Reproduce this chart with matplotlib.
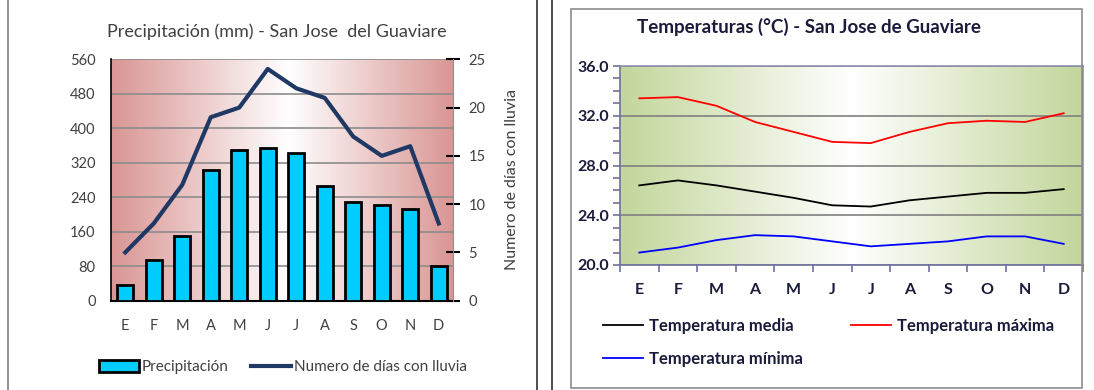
import matplotlib
matplotlib.use("Agg")
import matplotlib.pyplot as plt
import numpy as np
from matplotlib.colors import to_rgb
from matplotlib.patches import Rectangle
from matplotlib.lines import Line2D

# ---------------- data ----------------
months = ["E", "F", "M", "A", "M", "J", "J", "A", "S", "O", "N", "D"]
precip_mm = [37, 94, 150, 304, 349, 355, 342, 267, 229, 223, 213, 80]
rain_days = [5, 8, 12, 19, 20, 24, 22, 21, 17, 15, 16, 8]
temp_media = [26.4, 26.8, 26.4, 25.9, 25.4, 24.8, 24.7, 25.2, 25.5, 25.8, 25.8, 26.1]
temp_max = [33.4, 33.5, 32.8, 31.5, 30.7, 29.9, 29.8, 30.7, 31.4, 31.6, 31.5, 32.2]
temp_min = [21.0, 21.4, 22.0, 22.4, 22.3, 21.9, 21.5, 21.7, 21.9, 22.3, 22.3, 21.7]
precip_ticks = [0, 80, 160, 240, 320, 400, 480, 560]
days_ticks = [0, 5, 10, 15, 20, 25]
temp_ticks = [20.0, 24.0, 28.0, 32.0, 36.0]

W, H = 1094, 390
fig = plt.figure(figsize=(W / 100, H / 100), dpi=100)
FONT = "Lato"


def fx(px):
    return px / W


def fy(py):
    return 1 - py / H


def gradient(ax, edge, center=(1, 1, 1), mid=0.5):
    n = 256
    t = np.linspace(0, 1, n)
    d = np.where(t < mid, (mid - t) / mid, (t - mid) / (1 - mid))
    e = np.array(to_rgb(edge))
    c = np.array(center)
    img = c[None, :] * (1 - d[:, None]) + e[None, :] * d[:, None]
    ax.imshow(img[None, :, :], extent=[0, 1, 0, 1], transform=ax.transAxes,
              aspect="auto", zorder=0, interpolation="bilinear")


# decorative panel lines
fig.add_artist(Line2D([fx(8), fx(8)], [0, 1], color="#808080", lw=1.2))
fig.add_artist(Line2D([fx(537), fx(537)], [0, fy(0)], color="#303030", lw=1.2))
fig.add_artist(Line2D([fx(552), fx(552)], [0, 1], color="#303030", lw=1.2))

# ---------------- left chart: precipitation ----------------
axL = fig.add_axes([fx(111), fy(300.7), fx(453) - fx(111), fy(59.3) - fy(300.7)])
gradient(axL, "#D99694", mid=0.52)
x = np.arange(len(months))
axL.bar(x, precip_mm, width=0.56, color="#00CCFF", edgecolor="black",
        linewidth=2, zorder=3)
axL.set_xlim(-0.5, len(months) - 0.5)
axL.set_ylim(0, 560)
axL.set_yticks(precip_ticks)
axL.yaxis.grid(True, color="#8C8C8C", lw=1.2, zorder=1)
axL.set_axisbelow(True)
axL.set_xticks(x)
axL.set_xticklabels(months)
axL.tick_params(axis="both", length=0, labelsize=10.5, labelcolor="#404040")
axL.tick_params(axis="y", pad=11)
axL.tick_params(axis="x", pad=13)
for lab in axL.get_xticklabels() + axL.get_yticklabels():
    lab.set_fontfamily(FONT)
axL.spines["top"].set_visible(False)
axL.spines["right"].set_visible(False)
axL.spines["left"].set_color("black")
axL.spines["bottom"].set_color("black")
axL.spines["left"].set_linewidth(1.2)
axL.spines["bottom"].set_linewidth(1.5)

axR = axL.twinx()
axR.plot(x, rain_days, color="#1F3864", lw=3, zorder=5, solid_joinstyle="round")
axR.set_ylim(0, 25)
axR.set_yticks(days_ticks)
axR.tick_params(axis="y", direction="inout", length=10, width=1.5, color="black",
                labelsize=10.5, labelcolor="#404040", pad=6)
for lab in axR.get_yticklabels():
    lab.set_fontfamily(FONT)
for s in ["top", "left", "bottom"]:
    axR.spines[s].set_visible(False)
axR.spines["right"].set_color("#909090")
axR.set_ylabel("Numero de días con lluvia", fontsize=11.5, color="#404040",
               fontfamily=FONT, labelpad=14)

fig.text(fx(277), fy(32), "Precipitación (mm) - San Jose  del Guaviare",
         ha="center", va="center", fontsize=13, color="#404040", fontfamily=FONT)

hb = Rectangle((0, 0), 1, 1, facecolor="#00CCFF", edgecolor="black", lw=2)
hl = Line2D([], [], color="#1F3864", lw=3)
legL = fig.legend([hb, hl], ["Precipitación", "Numero de días con lluvia"],
                  loc="center", bbox_to_anchor=(fx(283), fy(367)), ncol=2,
                  frameon=False, handlelength=2.6, handleheight=0.9,
                  handletextpad=0.2, columnspacing=1.5,
                  prop={"family": FONT, "size": 11})
for t in legL.get_texts():
    t.set_color("#404040")

# ---------------- right chart: temperatures ----------------
fig.add_artist(Rectangle((fx(571), fy(388)), fx(1082) - fx(571), fy(9) - fy(388),
                         transform=fig.transFigure, fill=False,
                         edgecolor="#8C8C8C", lw=1.2))

axT = fig.add_axes([fx(620), fy(265), fx(1083) - fx(620), fy(66) - fy(265)])
gradient(axT, "#C3D69B", mid=0.5)
axT.plot(x, temp_media, color="black", lw=1.3, zorder=4)
axT.plot(x, temp_max, color="#FF0000", lw=1.3, zorder=4)
axT.plot(x, temp_min, color="#0000FF", lw=1.3, zorder=4)
axT.set_xlim(-0.5, len(months) - 0.5)
axT.set_ylim(20, 36)
axT.set_yticks(temp_ticks)
axT.set_yticklabels([f"{v:.1f}" for v in temp_ticks])
axT.set_yticks(np.arange(20, 36.01, 1.0), minor=True)
axT.yaxis.grid(True, which="major", color="#808080", lw=1.2, zorder=1)
axT.set_axisbelow(True)
axT.set_xticks(x)
axT.set_xticklabels(months)
axT.set_xticks(np.arange(-0.5, len(months) + 0.5, 1), minor=True)
axT.tick_params(axis="x", which="major", length=0, pad=13)
axT.tick_params(axis="x", which="minor", direction="out", length=5, width=1.2,
                color="#7070A0")
axT.tick_params(axis="y", which="both", direction="out", length=5, width=1.2,
                color="#7070A0", pad=3)
axT.tick_params(axis="both", labelsize=11.5, labelcolor="#1A1A3A")
for lab in axT.get_xticklabels() + axT.get_yticklabels():
    lab.set_fontfamily(FONT)
    lab.set_fontweight("bold")
for s in ["left", "bottom"]:
    axT.spines[s].set_color("#7070A0")
    axT.spines[s].set_linewidth(1.2)
axT.spines["top"].set_color("#9090B0")
axT.spines["right"].set_color("#9090B0")
axT.spines["top"].set_linewidth(1.2)
axT.spines["right"].set_linewidth(1.2)

fig.text(fx(637), fy(27), "Temperaturas (°C) - San Jose de Guaviare",
         ha="left", va="center", fontsize=13.5, color="#1A1A3A",
         fontfamily=FONT, fontweight="bold")

h_med = Line2D([], [], color="black", lw=1.3)
h_max = Line2D([], [], color="#FF0000", lw=1.3)
h_min = Line2D([], [], color="#0000FF", lw=1.3)
legT = fig.legend([h_med, h_min, h_max],
                  ["Temperatura media", "Temperatura mínima", "Temperatura máxima"],
                  loc="upper left", bbox_to_anchor=(fx(588), fy(303)), ncol=2,
                  frameon=False, handlelength=2.4, handletextpad=0.35,
                  columnspacing=2.9, labelspacing=1.0,
                  prop={"family": FONT, "size": 12, "weight": "bold"})
for t in legT.get_texts():
    t.set_color("#1A1A3A")

fig.savefig("out.png", dpi=100)
